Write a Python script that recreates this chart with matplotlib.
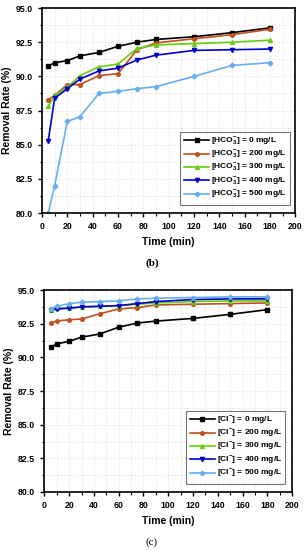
import matplotlib
matplotlib.use("Agg")
import matplotlib.pyplot as plt
from matplotlib.ticker import MultipleLocator

plt.rcParams['font.family'] = ['Liberation Sans', 'DejaVu Sans']
plt.rcParams['mathtext.fontset'] = 'custom'
plt.rcParams['mathtext.rm'] = 'Liberation Sans:bold'
plt.rcParams['mathtext.it'] = 'Liberation Sans:bold'
plt.rcParams['mathtext.bf'] = 'Liberation Sans:bold'

time_min = [5, 10, 20, 30, 45, 60, 75, 90, 120, 150, 180]
doses = [0, 200, 300, 400, 500]

# (b) bicarbonate
hco3_rates = [
    [90.75, 91.0, 91.15, 91.5, 91.75, 92.2, 92.5, 92.7, 92.9, 93.2, 93.55],
    [88.3, 88.6, 89.4, 89.4, 90.05, 90.2, 91.95, 92.45, 92.75, 93.05, 93.45],
    [87.8, 88.6, 89.2, 90.05, 90.7, 90.9, 92.05, 92.3, 92.4, 92.5, 92.65],
    [85.3, 88.4, 89.1, 89.8, 90.4, 90.6, 91.2, 91.55, 91.9, 91.95, 92.0],
    [80.0, 82.0, 86.7, 87.05, 88.75, 88.9, 89.1, 89.25, 90.0, 90.8, 91.0],
]

# (c) chloride
cl_rates = [
    [90.75, 91.0, 91.2, 91.5, 91.75, 92.25, 92.55, 92.7, 92.9, 93.2, 93.55],
    [92.55, 92.7, 92.8, 92.85, 93.25, 93.6, 93.7, 93.9, 93.95, 94.0, 94.05],
    [93.55, 93.65, 93.7, 93.75, 93.8, 93.85, 93.95, 94.05, 94.15, 94.2, 94.2],
    [93.5, 93.6, 93.65, 93.75, 93.8, 93.85, 94.0, 94.15, 94.3, 94.35, 94.35],
    [93.6, 93.8, 94.0, 94.1, 94.15, 94.2, 94.35, 94.4, 94.45, 94.5, 94.5],
]

colors = ['black', '#C0501E', '#66CC11', '#0000CC', '#66AEEE']
markers = ['s', 'o', '^', 'v', 'D']
msizes = [2.4, 2.6, 2.8, 3.0, 2.4]


def draw_panel(ax, rates, prefix, anchor):
    for i, y in enumerate(rates):
        ax.plot(time_min, y, color=colors[i], marker=markers[i], ms=msizes[i],
                lw=1.2, label=prefix + ' = ' + str(doses[i]) + ' mg/L')
    ax.set_xlim(0, 200)
    ax.set_ylim(80, 95)
    ax.xaxis.set_major_locator(MultipleLocator(20))
    ax.xaxis.set_minor_locator(MultipleLocator(10))
    ax.yaxis.set_major_locator(MultipleLocator(2.5))
    ax.yaxis.set_minor_locator(MultipleLocator(1.25))
    ax.yaxis.set_major_formatter(matplotlib.ticker.FormatStrFormatter('%.1f'))
    ax.grid(True, which='both', color='#d8d8d8', ls=':', lw=0.6)
    ax.tick_params(which='major', direction='out', length=3, width=1, labelsize=6.3)
    ax.tick_params(which='minor', direction='out', length=1.8, width=0.8)
    for lab in ax.get_xticklabels() + ax.get_yticklabels():
        lab.set_fontweight('bold')
    for s in ax.spines.values():
        s.set_linewidth(1.2)
    ax.set_xlabel('Time (min)', fontsize=7.5, fontweight='bold', labelpad=4)
    ax.set_ylabel('Removal Rate (%)', fontsize=7.5, fontweight='bold', labelpad=3)
    leg = ax.legend(loc='lower right', prop={'weight': 'bold', 'size': 6.0},
                    frameon=True, fancybox=False, edgecolor='#555555',
                    handlelength=3.0, labelspacing=0.14, borderpad=0.45,
                    handletextpad=0.2, bbox_to_anchor=anchor)
    leg.get_frame().set_linewidth(0.8)


fig = plt.figure(figsize=(3.04, 5.5), dpi=100)
ax1 = fig.add_axes([0.138, 0.6127, 0.834, 0.3727])
ax2 = fig.add_axes([0.146, 0.1055, 0.815, 0.367])

draw_panel(ax1, hco3_rates, r'[HCO$_3^{-}$]', (0.995, 0.02))
draw_panel(ax2, cl_rates, r'[Cl$^{-}$]', (0.99, 0.02))

fig.text(0.5, 0.522, '(b)', ha='center', va='center', fontsize=8,
         family='Liberation Serif', fontweight='bold')
fig.text(0.5, 0.015, '(c)', ha='center', va='center', fontsize=8,
         family='Liberation Serif')

fig.savefig('out.png', dpi=100)
